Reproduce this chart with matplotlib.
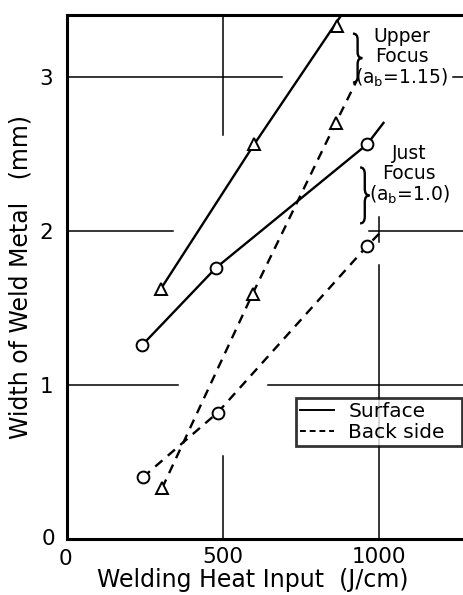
import matplotlib
matplotlib.use("Agg")
import matplotlib.pyplot as plt
from matplotlib.path import Path
from matplotlib.patches import PathPatch

# ---- data (J/cm, mm) ----
upper_x = [300, 600, 865]
upper_surface = [1.62, 2.56, 3.33]
upper_back_x = [305, 595, 862]
upper_back = [0.33, 1.59, 2.70]

just_x = [242, 478, 962]
just_surface = [1.26, 1.76, 2.56]
just_back_x = [243, 483, 962]
just_back = [0.40, 0.82, 1.90]

# fitted curves drawn in the figure
upper_surface_fit_x = [300, 600, 880]
upper_surface_fit_y = [1.62, 2.56, 3.40]
upper_back_fit_x = [305, 595, 862, 928]
upper_back_fit_y = [0.33, 1.59, 2.70, 2.97]
just_surface_fit_x = [242, 478, 962, 1015]
just_surface_fit_y = [1.26, 1.76, 2.56, 2.70]
just_back_fit_x = [243, 483, 962, 1015]
just_back_fit_y = [0.40, 0.82, 1.90, 2.01]

x_ticks = [0, 500, 1000]
x_ticklabels = ["0", "500", "1000"]
y_ticks = [1, 2, 3]
y_ticklabels = ["1", "2", "3"]

plt.rcParams['font.family'] = ['DejaVu Sans']
plt.rcParams['mathtext.default'] = 'regular'

W, H = 463, 595
fig = plt.figure(figsize=(W / 100, H / 100), dpi=100)
ax = fig.add_axes([67 / W, (H - 539) / H, (W - 67) / W, (539 - 15) / H])
ax.set_xlim(0, 1270)
ax.set_ylim(0, 3.40)

for s in ["left", "bottom", "top"]:
    ax.spines[s].set_linewidth(2.2)
ax.spines["right"].set_visible(False)

# partial grid segments (crosshair style of the original)
gk = dict(color="black", lw=1.1, zorder=1)
ax.plot([0, 690], [3, 3], **gk)
ax.plot([1237, 1270], [3, 3], **gk)
ax.plot([500, 500], [2.62, 3.40], **gk)
ax.plot([0, 340], [2, 2], **gk)
ax.plot([970, 1270], [2, 2], **gk)
ax.plot([1000, 1000], [1.93, 2.09], **gk)
ax.plot([1000, 1000], [0, 1.78], **gk)
ax.plot([0, 355], [1, 1], **gk)
ax.plot([644, 1270], [1, 1], **gk)
ax.plot([500, 500], [0, 0.54], **gk)

lw = 1.7
ax.plot(upper_surface_fit_x, upper_surface_fit_y, "-", color="black", lw=lw, zorder=2)
ax.plot(upper_back_fit_x, upper_back_fit_y, "--", color="black", lw=lw, dashes=(4, 3), zorder=2)
ax.plot(just_surface_fit_x, just_surface_fit_y, "-", color="black", lw=lw, zorder=2)
ax.plot(just_back_fit_x, just_back_fit_y, "--", color="black", lw=lw, dashes=(4, 3), zorder=2)

mk = dict(linestyle="none", markerfacecolor="white", markeredgecolor="black",
          markeredgewidth=1.4, zorder=3, clip_on=False)
ax.plot(upper_x, upper_surface, marker="^", markersize=8.5, **mk)
ax.plot(upper_back_x, upper_back, marker="^", markersize=8.5, **mk)
ax.plot(just_x, just_surface, marker="o", markersize=8.5, **mk)
ax.plot(just_back_x, just_back, marker="o", markersize=8.5, **mk)

# legend
l1, = ax.plot([], [], "-", color="black", lw=1.4)
l2, = ax.plot([], [], "--", color="black", lw=1.4, dashes=(3, 2))
bx0 = (296 - 67) / (W - 67)
bx1 = (462 - 67) / (W - 67)
by1 = (539 - 398) / (539 - 15)
by0 = (539 - 450) / (539 - 15)
leg = ax.legend([l1, l2], ["Surface", "Back side"], loc="upper left",
                bbox_to_anchor=(bx0, by0, bx1 - bx0, by1 - by0), mode="expand",
                frameon=True, fancybox=False, edgecolor="black", fontsize=14.5,
                handlelength=1.7, handletextpad=0.7, borderpad=0.2,
                labelspacing=0.1, borderaxespad=0)
leg.get_frame().set_linewidth(2.0)
leg.set_zorder(5)

# ticks
ax.set_xticks(x_ticks)
ax.set_xticklabels(x_ticklabels, fontsize=15.5)
ax.set_yticks(y_ticks)
ax.set_yticklabels(y_ticklabels, fontsize=15.5)
ax.tick_params(axis="y", length=0, pad=10)
ax.tick_params(axis="x", length=0, pad=6)
ax.get_xticklabels()[0].set_visible(False)
ax.text(-0.03, 0.0, "0", transform=ax.transAxes, ha="right", va="center", fontsize=15.5)
ax.text(-0.005, -0.02, "0", transform=ax.transAxes, ha="center", va="top", fontsize=15.5)

ax.set_xlabel("Welding Heat Input  (J/cm)", fontsize=17, labelpad=0)
ax.xaxis.set_label_coords(0.47, -0.055, transform=ax.transAxes)
ax.xaxis.label.set_va("top")
ax.set_ylabel("Width of Weld Metal   (mm)", fontsize=17, labelpad=5)


def brace(x0, x1, y0, y1):
    """Draw a right-pointing curly brace in data coordinates."""
    xm = (x0 + x1) / 2
    ym = (y0 + y1) / 2
    d = (y1 - y0) * 0.12
    verts = [
        (x0, y1), (xm, y1), (xm, y1 - d),
        (xm, ym + d),
        (xm, ym), (x1, ym),
        (xm, ym), (xm, ym - d),
        (xm, y0 + d),
        (xm, y0), (x0, y0),
    ]
    codes = [Path.MOVETO, Path.CURVE3, Path.CURVE3,
             Path.LINETO,
             Path.CURVE3, Path.CURVE3,
             Path.CURVE3, Path.CURVE3,
             Path.LINETO,
             Path.CURVE3, Path.CURVE3]
    ax.add_patch(PathPatch(Path(verts, codes), fill=False, lw=1.7,
                           edgecolor="black", zorder=4, clip_on=False))


brace(917, 947, (539 - 82) / 154.3, (539 - 33) / 154.3)
ax.text(1074, 3.32, "Upper\nFocus\n(a$_b$=1.15)", fontsize=13.5,
        ha="center", va="top", linespacing=1.05, multialignment="center")
brace(940, 970, (539 - 223) / 154.3, (539 - 167) / 154.3)
ax.text(1098, 2.56, "Just\nFocus\n(a$_b$=1.0)", fontsize=13.5,
        ha="center", va="top", linespacing=1.05, multialignment="center")

fig.savefig("out.png", dpi=100)
